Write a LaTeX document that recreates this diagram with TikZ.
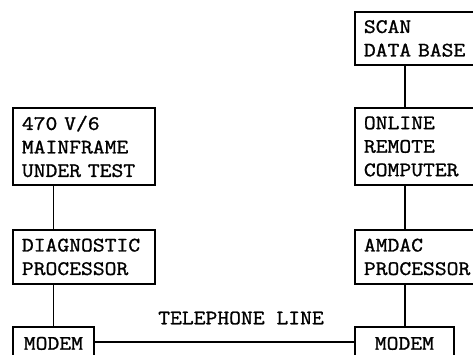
\documentclass[tikz,border=0pt]{standalone}
\usepackage{fontspec}
\setmonofont{Latin Modern Mono}[FakeStretch=1.12, FakeBold=1.2]
\begin{document}
\begin{tikzpicture}[x=1pt,y=-1pt,
  box/.style={draw, line width=1.8pt, anchor=north west, inner xsep=9pt, inner ysep=0pt,
    align=left, font=\ttfamily\fontsize{20.5}{23.5}\selectfont},
  cbox/.style={box, align=center},
  wire/.style={line width=1.6pt},
  lbl/.style={font=\ttfamily\fontsize{20.5}{23.5}\selectfont, inner sep=0pt}]
\useasboundingbox (0,0) rectangle (473,354);
\clip (0,0) rectangle (473,354);
% left column
\node[box, text width=124pt, minimum height=77pt] (main) at (12,107) {470 V/6\\MAINFRAME\\UNDER TEST};
\node[box, text width=124pt, minimum height=54pt] (diag) at (12,229) {DIAGNOSTIC\\PROCESSOR};
\node[cbox, text width=63pt, minimum height=33pt] (modemL) at (12,326) {MODEM};
% right column
\node[box, text width=132pt, minimum height=53pt] (scan) at (354,11) {SCAN\\DATA BASE};
\node[box, text width=132pt, minimum height=77pt] (online) at (354,107) {ONLINE\\REMOTE\\COMPUTER};
\node[box, text width=132pt, minimum height=54pt] (amdac) at (354,229) {AMDAC\\PROCESSOR};
\node[cbox, text width=81pt, minimum height=33pt] (modemR) at (354,326) {MODEM};
% connectors
\draw[wire] (main.south -| modemL.north) -- (diag.north -| modemL.north);
\draw[wire] (diag.south -| modemL.north) -- (modemL.north);
\draw[wire] ([xshift=51pt]scan.south west) -- ([xshift=51pt]online.north west);
\draw[wire] ([xshift=51pt]online.south west) -- ([xshift=51pt]amdac.north west);
\draw[wire] ([xshift=51pt]amdac.south west) -- ([xshift=51pt]modemR.north west);
\draw[wire] ([yshift=1.5pt]modemL.east) -- ([yshift=1.5pt]modemR.west);
\node[lbl] (tel) at (241,318) {TELEPHONE LINE};
\end{tikzpicture}
\end{document}
